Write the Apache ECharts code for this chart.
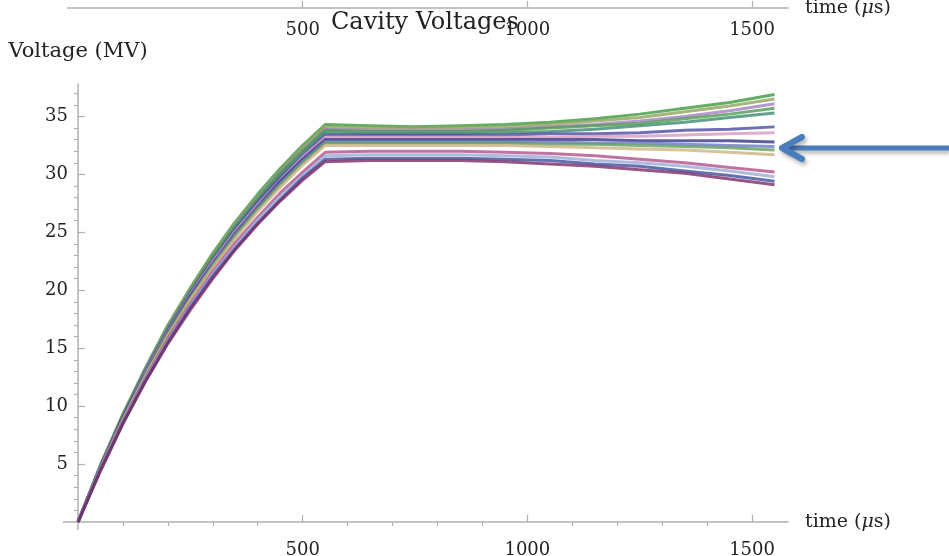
<!DOCTYPE html>
<html>
<head>
<meta charset="utf-8">
<script src="https://cdn.jsdelivr.net/npm/echarts@6/dist/echarts.min.js"></script>
<style>
  html, body { margin: 0; padding: 0; background: #fff; }
  #chart { width: 949px; height: 556px; }
</style>
</head>
<body>
<div id="chart"></div>
<script>
// time points (us)
const times = [0, 50, 100, 150, 200, 250, 300, 350, 400, 450, 500, 550,
  650, 750, 850, 950, 1050, 1150, 1250, 1350, 1450, 1550];

// cavity voltages (MV), one array per cavity
const v01 = [0, 4.9, 9.3, 13.3, 17.0, 20.2, 23.2, 25.9, 28.3, 30.5, 32.5, 34.3, 34.2, 34.1, 34.2, 34.3, 34.5, 34.8, 35.2, 35.7, 36.2, 36.9];
const v02 = [0, 4.9, 9.3, 13.2, 16.9, 20.1, 23.1, 25.7, 28.1, 30.3, 32.3, 34.1, 34.0, 34.0, 34.0, 34.1, 34.3, 34.6, 34.9, 35.4, 35.9, 36.5];
const v03 = [0, 4.8, 9.2, 13.2, 16.8, 20.0, 22.9, 25.6, 28.0, 30.2, 32.1, 33.9, 33.8, 33.8, 33.8, 33.9, 34.1, 34.3, 34.6, 35.0, 35.5, 36.1];
const v04 = [0, 4.8, 9.2, 13.1, 16.7, 19.9, 22.9, 25.5, 27.9, 30.1, 32.0, 33.8, 33.7, 33.7, 33.7, 33.8, 34.0, 34.2, 34.4, 34.8, 35.2, 35.7];
const v05 = [0, 4.8, 9.1, 13.1, 16.6, 19.8, 22.7, 25.4, 27.7, 29.9, 31.8, 33.6, 33.5, 33.5, 33.5, 33.6, 33.7, 33.9, 34.2, 34.5, 34.9, 35.3];
const v06 = [0, 4.8, 9.1, 13.0, 16.5, 19.7, 22.6, 25.2, 27.6, 29.7, 31.6, 33.4, 33.4, 33.4, 33.4, 33.4, 33.5, 33.5, 33.6, 33.8, 33.9, 34.1];
const v07 = [0, 4.7, 9.0, 12.9, 16.4, 19.6, 22.5, 25.1, 27.4, 29.5, 31.5, 33.2, 33.2, 33.2, 33.2, 33.2, 33.2, 33.3, 33.3, 33.4, 33.5, 33.6];
const v08 = [0, 4.7, 9.0, 12.8, 16.3, 19.5, 22.3, 24.9, 27.2, 29.4, 31.3, 33.0, 33.0, 33.0, 33.0, 33.0, 33.0, 33.0, 32.9, 32.9, 32.9, 32.8];
const v09 = [0, 4.7, 8.9, 12.7, 16.2, 19.3, 22.2, 24.8, 27.1, 29.2, 31.1, 32.8, 32.8, 32.8, 32.8, 32.8, 32.8, 32.7, 32.7, 32.6, 32.5, 32.4];
const v10 = [0, 4.7, 8.9, 12.7, 16.2, 19.3, 22.1, 24.7, 27.0, 29.1, 31.0, 32.7, 32.7, 32.7, 32.7, 32.7, 32.6, 32.6, 32.5, 32.4, 32.3, 32.1];
const v11 = [0, 4.6, 8.8, 12.6, 16.1, 19.2, 22.0, 24.5, 26.8, 28.9, 30.8, 32.5, 32.5, 32.5, 32.5, 32.5, 32.4, 32.3, 32.2, 32.1, 31.9, 31.7];
const v12 = [0, 4.6, 8.7, 12.4, 15.8, 18.8, 21.6, 24.1, 26.3, 28.4, 30.2, 31.9, 32.0, 32.0, 32.0, 31.9, 31.8, 31.6, 31.3, 31.0, 30.6, 30.2];
const v13 = [0, 4.5, 8.6, 12.3, 15.6, 18.6, 21.4, 23.8, 26.1, 28.1, 29.9, 31.6, 31.7, 31.7, 31.7, 31.6, 31.5, 31.2, 31.0, 30.7, 30.3, 29.8];
const v14 = [0, 4.5, 8.5, 12.2, 15.5, 18.5, 21.2, 23.6, 25.8, 27.8, 29.7, 31.3, 31.4, 31.4, 31.4, 31.3, 31.2, 30.9, 30.7, 30.3, 29.9, 29.4];
const v15 = [0, 4.4, 8.5, 12.1, 15.4, 18.3, 21.0, 23.5, 25.7, 27.7, 29.5, 31.1, 31.2, 31.2, 31.2, 31.1, 30.9, 30.7, 30.4, 30.1, 29.6, 29.1];

const cavities = [v01, v02, v03, v04, v05, v06, v07, v08, v09, v10, v11, v12, v13, v14, v15];
const colors = ['#3c9a3c', '#8fa35a', '#a27ec2', '#4e9a4e', '#3d8a70', '#4b4ba3', '#d49ac0', '#35358a',
  '#6b78c0', '#5f9f5f', '#cdb381', '#b0508a', '#9aaad6', '#3c4c98', '#7c2a66'];

// tick values
const xMajor = [500, 1000, 1500];
const xMinor = [100, 200, 300, 400, 600, 700, 800, 900, 1100, 1200, 1300, 1400];
const yMajor = [5, 10, 15, 20, 25, 30, 35];
const yMinor = [1, 2, 3, 4, 6, 7, 8, 9, 11, 12, 13, 14, 16, 17, 18, 19, 21, 22, 23, 24,
  26, 27, 28, 29, 31, 32, 33, 34, 36, 37];

const FONT = 'DejaVu Serif';
const TXT = '#222';
const AX = '#b0b0b0';

let chart = echarts.init(document.getElementById('chart'));

function xAx(grid, major, withName, margin) {
  return {
    type: 'value', gridIndex: grid, min: 0, max: 1580,
    name: withName ? 'time ({i|μ}s)' : '',
    nameLocation: 'end', nameGap: withName ? 17 : 0,
    nameTextStyle: {
      fontFamily: FONT, fontSize: 19, color: TXT,
      rich: { i: { fontFamily: FONT, fontSize: 19, fontStyle: 'italic', color: TXT } }
    },
    axisLine: { show: major, lineStyle: { color: AX, width: 1.5 } },
    axisTick: { show: true, inside: true, length: major ? 7 : 4,
      customValues: major ? xMajor : xMinor, lineStyle: { color: AX, width: 1.2 } },
    axisLabel: { show: major, customValues: xMajor, margin: margin,
      formatter: (v) => String(v),
      fontFamily: FONT, fontSize: 18, color: TXT },
    splitLine: { show: false }
  };
}

// short axis stubs past the origin, Mathematica style
function stub(x1, y1, x2, y2) {
  return { type: 'line', shape: { x1: x1, y1: y1, x2: x2, y2: y2 },
    style: { stroke: AX, lineWidth: 1.5 }, silent: true };
}

chart.setOption({
  animation: false,
  backgroundColor: '#fff',
  title: {
    text: 'Cavity Voltages', left: 326, top: 6,
    textStyle: { fontFamily: FONT, fontSize: 24, fontWeight: 'normal', color: TXT }
  },
  grid: [
    { left: 78, right: 161, top: 84, bottom: 34, outerBoundsMode: 'none' },
    { left: 78, right: 161, top: -40, bottom: 548, outerBoundsMode: 'none' }
  ],
  xAxis: [
    xAx(0, true, true, 19),
    xAx(0, false, false, 0),
    xAx(1, true, true, 13),
    xAx(1, false, false, 0)
  ],
  yAxis: [
    {
      type: 'value', gridIndex: 0, min: 0, max: 37.8,
      name: 'Voltage (MV)', nameLocation: 'end', nameGap: 22,
      nameTextStyle: { fontFamily: FONT, fontSize: 21, color: TXT },
      axisLine: { show: true, lineStyle: { color: AX, width: 1.5 } },
      axisTick: { show: true, inside: true, length: 7, customValues: yMajor,
        lineStyle: { color: AX, width: 1.2 } },
      axisLabel: { customValues: yMajor, margin: 10, fontFamily: FONT, fontSize: 18, color: TXT },
      splitLine: { show: false }
    },
    {
      type: 'value', gridIndex: 0, min: 0, max: 37.8,
      axisLine: { show: false },
      axisTick: { show: true, inside: true, length: 4, customValues: yMinor,
        lineStyle: { color: AX, width: 1.2 } },
      axisLabel: { show: false },
      splitLine: { show: false }
    },
    { type: 'value', gridIndex: 1, min: 0, max: 1, show: false }
  ],
  series: cavities.map((vals, k) => ({
    type: 'line',
    xAxisIndex: 0, yAxisIndex: 0,
    showSymbol: false,
    silent: true,
    lineStyle: { color: colors[k], width: 3, opacity: 0.8 },
    data: times.map((t, i) => [t, vals[i]])
  })),
  graphic: [
    stub(63, 522, 78, 522),
    stub(78, 522, 78, 530),
    stub(67, 8, 78, 8),
    {
      type: 'group',
      children: [
        {
          type: 'polyline',
          shape: { points: [[949, 148], [785, 148]] },
          style: { stroke: '#4a7ebb', lineWidth: 5, fill: null,
            shadowBlur: 4, shadowOffsetX: 2, shadowOffsetY: 3, shadowColor: 'rgba(0,0,0,0.3)' }
        },
        {
          type: 'polyline',
          shape: { points: [[802, 137], [782, 148], [802, 159]] },
          style: { stroke: '#4a7ebb', lineWidth: 6, fill: null, lineJoin: 'round', lineCap: 'round',
            shadowBlur: 4, shadowOffsetX: 2, shadowOffsetY: 3, shadowColor: 'rgba(0,0,0,0.3)' }
        }
      ]
    }
  ]
});
</script>
</body>
</html>
